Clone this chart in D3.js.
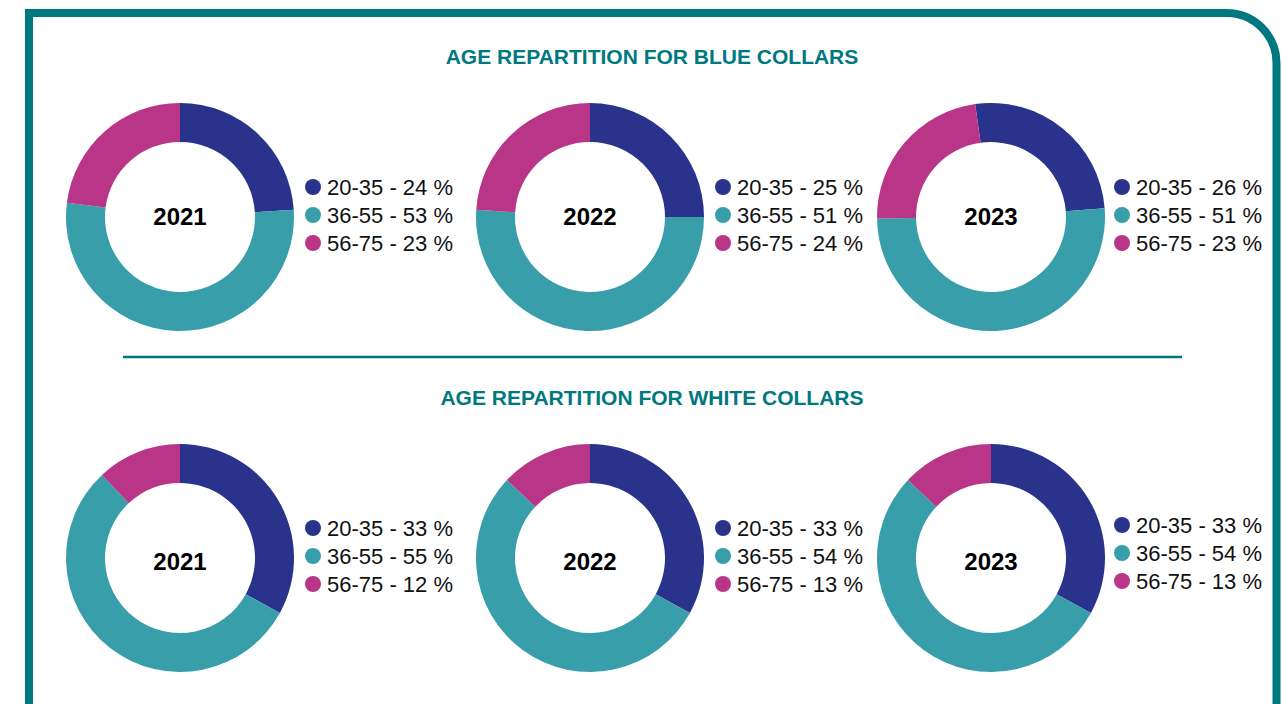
<!DOCTYPE html>
<html>
<head>
<meta charset="utf-8">
<script src="https://cdn.jsdelivr.net/npm/d3@7"></script>
<style>
  html, body { margin: 0; padding: 0; background: #fff; }
  svg { display: block; font-family: "Liberation Sans", Arial, Helvetica, sans-serif; }
</style>
</head>
<body>
<svg id="chart"></svg>
<script>
// data
const years = ["2021", "2022", "2023"];
const ageGroups = ["20-35", "36-55", "56-75"];
const blueCollars = [
  [24, 53, 23],
  [25, 51, 24],
  [26, 51, 23]
];
const whiteCollars = [
  [33, 55, 12],
  [33, 54, 13],
  [33, 54, 13]
];
const sectionTitles = ["AGE REPARTITION FOR BLUE COLLARS", "AGE REPARTITION FOR WHITE COLLARS"];
const rotations = [[0, 0, -8], [0, 0, 0]];   // degrees, start of first slice

const W = 1282, H = 704;
const teal = "#00787f";
const color = d3.scaleOrdinal().domain(ageGroups).range(["#29338c", "#389eaa", "#b83587"]);

const svg = d3.select("#chart").attr("width", W).attr("height", H);

// frame, rounded top-right corner
const fx0 = 29, fy0 = 13, fx1 = 1276.5, rr = 50;
svg.append("path")
  .attr("d", `M${fx0},${H + 20} L${fx0},${fy0} L${fx1 - rr},${fy0} A${rr},${rr} 0 0 1 ${fx1},${fy0 + rr} L${fx1},${H + 20}`)
  .attr("fill", "none")
  .attr("stroke", teal)
  .attr("stroke-width", 8);

// divider
svg.append("line")
  .attr("x1", 123).attr("x2", 1182)
  .attr("y1", 357).attr("y2", 357)
  .attr("stroke", teal)
  .attr("stroke-width", 2.5);

const xpos = d3.scaleOrdinal().domain(years).range([180, 590, 991]);
const sections = [
  { title: sectionTitles[0], data: blueCollars, titleY: 64, cy: 217, rot: rotations[0], labelDy: 8, legDy: [0, 0, 0] },
  { title: sectionTitles[1], data: whiteCollars, titleY: 405, cy: 558, rot: rotations[1], labelDy: 12, legDy: [0, 0, -3] }
];

const rOuter = 114, rInner = 75;
const arc = d3.arc().innerRadius(rInner).outerRadius(rOuter);
const legendY = d3.scalePoint().domain(ageGroups).range([-30, 26]);

sections.forEach(sec => {
  svg.append("text")
    .attr("x", 652)
    .attr("y", sec.titleY)
    .attr("text-anchor", "middle")
    .attr("fill", teal)
    .attr("font-size", 21)
    .attr("font-weight", "bold")
    .text(sec.title);

  years.forEach((yr, i) => {
    const vals = sec.data[i];
    const start = sec.rot[i] * Math.PI / 180;
    const pie = d3.pie().sort(null).value(d => d.value)
      .startAngle(start).endAngle(start + 2 * Math.PI);
    const g = svg.append("g")
      .attr("transform", `translate(${xpos(yr)}, ${sec.cy})`);

    g.selectAll("path")
      .data(pie(vals.map((v, k) => ({ key: ageGroups[k], value: v }))))
      .join("path")
      .attr("d", arc)
      .attr("fill", d => color(d.data.key));

    g.append("text")
      .attr("text-anchor", "middle")
      .attr("y", sec.labelDy)
      .attr("font-size", 24)
      .attr("font-weight", "bold")
      .attr("fill", "#000")
      .text(yr);

    const leg = g.selectAll("g.leg")
      .data(ageGroups)
      .join("g")
      .attr("class", "leg")
      .attr("transform", (d) => `translate(${i == 2 ? 131 : 133}, ${legendY(d) + sec.legDy[i]})`);

    leg.append("circle").attr("r", 8).attr("fill", d => color(d));
    leg.append("text")
      .attr("x", 14)
      .attr("y", 8)
      .attr("font-size", 22)
      .attr("fill", "#111")
      .text((d, k) => `${d} - ${vals[k]} %`);
  });
});
</script>
</body>
</html>
